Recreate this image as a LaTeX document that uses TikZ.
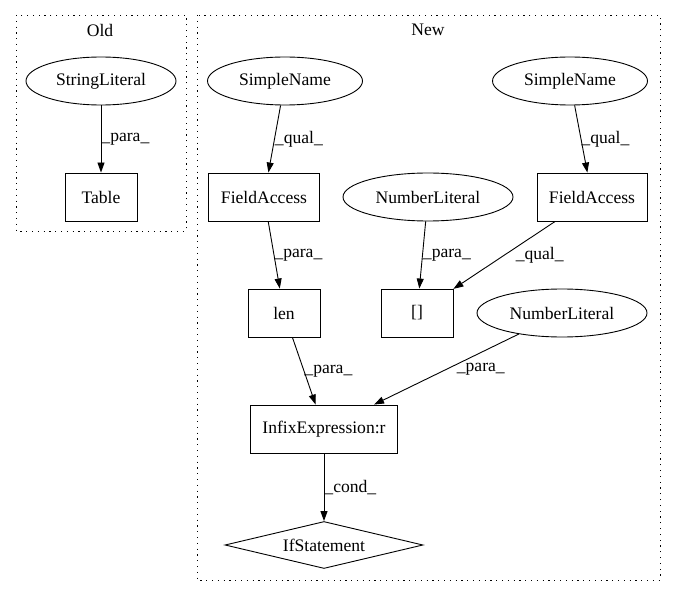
\documentclass[tikz,border=0pt]{standalone}
\usepackage{fontspec}
\setmainfont{Liberation Serif}
\usetikzlibrary{shapes.geometric,arrows.meta}

\begin{document}
\begin{tikzpicture}[x=1pt, y=-1pt, font=\fontsize{17.6}{20}\selectfont,
		cluster/.style = {line width=0.9pt, dash pattern=on 1.2pt off 4.6pt},
		lit/.style = {ellipse, draw, line width=0.9pt, inner sep=0pt, minimum height=48pt},
		box/.style = {rectangle, draw, line width=0.9pt, inner sep=0pt, minimum height=48pt},
		cond/.style = {diamond, draw, line width=0.9pt, inner sep=0pt, aspect=4.2, minimum width=198pt, minimum height=47pt},
		edge/.style = {->, >={Triangle[length=10pt, width=7pt]}, line width=0.9pt},
		lbl/.style = {anchor=west, inner sep=0pt}]
		\useasboundingbox (0,0) rectangle (675,596);

		% clusters
		\draw[cluster] (16,15) rectangle (186,231);
		\draw (100,30) node (oldlbl) {Old};
		\draw[cluster] (197,15) rectangle (660,580);
		\draw (428,30) node (newlbl) {New};

		% old
		\draw (101,81) node[lit, minimum width=150pt] (strlit) {StringLiteral};
		\draw (101,197) node[box, minimum width=72pt] (table) {Table};

		% new
		\draw (285,81) node[lit, minimum width=155pt] (sname1) {SimpleName};
		\draw (570,81) node[lit, minimum width=155pt] (sname2) {SimpleName};
		\draw (264,197) node[box, minimum width=111pt] (fa1) {FieldAccess};
		\draw (428,197) node[lit, minimum width=170pt] (numlit1) {NumberLiteral};
		\draw (592,197) node[box, minimum width=110pt] (fa2) {FieldAccess};
		\draw (284,313) node[box, minimum width=72pt] (len) {len};
		\draw (417,313) node[box, minimum width=72pt] (idx) {[]};
		\draw (562,313) node[lit, minimum width=170pt] (numlit2) {NumberLiteral};
		\draw (324,429) node[box, minimum width=147pt] (infix) {InfixExpression:r};
		\draw (324,545) node[cond] (ifst) {IfStatement};

		\draw[edge] (strlit) -- node[lbl] {\_para\_} (table);
		\draw[edge] (sname1) -- node[lbl] {\_qual\_} (fa1);
		\draw[edge] (sname2) -- node[lbl] {\_qual\_} (fa2);
		\draw[edge] (fa1) -- node[lbl] {\_para\_} (len);
		\draw[edge] (numlit1) -- node[lbl] {\_para\_} (idx);
		\draw[edge] (fa2) -- node[lbl, xshift=11pt] {\_qual\_} (idx);
		\draw[edge] (len) -- node[lbl] {\_para\_} (infix);
		\draw[edge] (numlit2) -- node[lbl, xshift=10pt] {\_para\_} (infix);
		\draw[edge] (infix) -- node[lbl] {\_cond\_} (ifst);
	\end{tikzpicture}
\end{document}
